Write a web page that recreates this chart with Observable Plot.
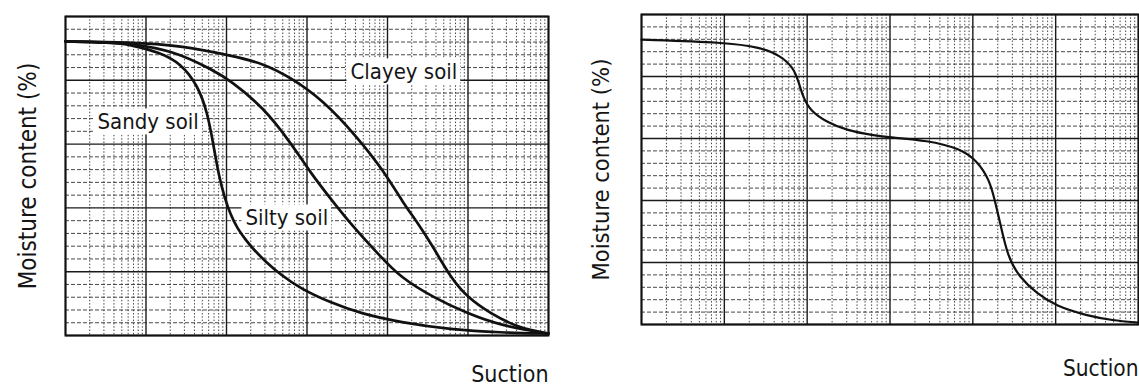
<!DOCTYPE html>
<html>
<head>
<meta charset="utf-8">
<script src="https://cdn.jsdelivr.net/npm/d3@7"></script>
<script src="https://cdn.jsdelivr.net/npm/@observablehq/plot@0.6"></script>
<style>
  html, body { margin: 0; padding: 0; background: #fff; }
  #wrap { position: relative; width: 1139px; height: 386px; overflow: hidden; }
  #wrap svg { position: absolute; top: 0; background: transparent; }
</style>
</head>
<body>
<div id="wrap"></div>
<script>
// ---------- data ----------
// Left panel: three soils
const sandySuction = [1, 3.6, 6.4, 15, 27, 44, 58, 69, 80, 94.5, 112, 137, 172, 216, 305, 469, 830, 1960, 4620, 14500, 60600, 253000, 1000000];
const sandyMoisture = [92.2, 91.8, 91.2, 88.7, 85.3, 78.4, 69.9, 59.6, 50.2, 43.3, 37.9, 33.5, 30.1, 27.0, 23.2, 19.1, 14.7, 10.3, 6.9, 4.1, 1.9, 0.9, 0.6];

const siltySuction = [1, 3.6, 6.4, 22, 69, 112, 288, 624, 1100, 1960, 3780, 8190, 14500, 37300, 98600, 253000, 1000000];
const siltyMoisture = [92.2, 91.9, 91.5, 89.3, 83.1, 79.9, 71.5, 60.5, 51.1, 42.9, 33.9, 24.8, 18.2, 11.9, 6.9, 3.1, 0.6];

const clayeySuction = [1, 6.4, 27, 112, 288, 624, 1600, 4240, 8920, 15800, 23600, 37300, 60600, 98600, 190000, 412000, 1000000];
const clayeyMoisture = [92.2, 91.9, 90.9, 87.8, 85.3, 80.9, 73.7, 62.1, 51.7, 41.4, 35.4, 27.6, 18.2, 11.9, 6.9, 2.5, 0.6];

const soilNames = ["Sandy soil", "Clayey soil", "Silty soil"];
const labelSuction = [2.5, 3470, 172];
const labelMoisture = [64.6, 80.3, 34.5];

// Right panel: bimodal curve
const bimodalSuction = [1, 10.3, 27.2, 47.3, 67.8, 78, 89.5, 109, 174, 303, 624, 1030, 2790, 6970, 11200, 16000, 18400, 21100, 26400, 36800, 59100, 103000, 236000, 487000, 1000000];
const bimodalMoisture = [91.9, 91.0, 89.4, 86.8, 82.9, 78.7, 73.2, 69.0, 65.2, 62.6, 61.0, 60.3, 59.4, 56.8, 52.9, 46.5, 40.0, 33.5, 21.6, 15.2, 10.0, 5.8, 2.9, 1.3, 0.6];

// grid ticks
const decades = [1, 10, 100, 1000, 10000, 100000, 1000000];
const minorFactors = [2, 3, 4, 5, 6, 7, 8, 9];
const majorMoisture = [0, 20, 40, 60, 80, 100];
const minorMoisture = [4, 8, 12, 16, 24, 28, 32, 36, 44, 48, 52, 56, 64, 68, 72, 76, 84, 88, 92, 96];

const yLabel = "Moisture content (%)";
const xLabel = "Suction";

// ---------- helpers ----------
const minorSuction = decades.slice(0, -1).flatMap(d => minorFactors.map(f => f * d));
const toRows = (s, m, name) => s.map((v, i) => ({suction: v, moisture: m[i], soil: name}));

const FONT = "'DejaVu Sans Condensed', 'DejaVu Sans', sans-serif";

function gridMarks() {
  return [
    Plot.ruleX(minorSuction, {stroke: "#333", strokeWidth: 0.9, strokeDasharray: "1.5,1.8"}),
    Plot.ruleY(minorMoisture, {stroke: "#333", strokeWidth: 0.9, strokeDasharray: "4,2"}),
    Plot.ruleX(decades, {stroke: "#1a1a1a", strokeWidth: 1.4}),
    Plot.ruleY(majorMoisture, {stroke: "#1a1a1a", strokeWidth: 1.4})
  ];
}

function axisTexts(dxY, dyX, fsY, fsX) {
  return [
    Plot.text([yLabel], {frameAnchor: "left", rotate: -90, textAnchor: "middle", lineAnchor: "bottom",
      dx: dxY, fontSize: fsY, fill: "#151515", fontFamily: FONT}),
    Plot.text([xLabel], {frameAnchor: "bottom-right", textAnchor: "end", lineAnchor: "bottom",
      dy: dyX, fontSize: fsX, fill: "#151515", fontFamily: FONT})
  ];
}

function addBoxes(svg) {
  const ns = "http://www.w3.org/2000/svg";
  let g = svg.querySelector('g[aria-description="soil-labels"]');
  if (!g) {
    g = Array.from(svg.querySelectorAll('g[aria-label="text"]')).find(x => x.querySelectorAll("text").length === 3);
  }
  if (!g) return;
  for (const t of Array.from(g.querySelectorAll("text"))) {
    const b = t.getBBox();
    const r = document.createElementNS(ns, "rect");
    r.setAttribute("x", b.x - 4);
    r.setAttribute("y", b.y - 1);
    r.setAttribute("width", b.width + 7);
    r.setAttribute("height", b.height + 1);
    r.setAttribute("fill", "white");
    r.setAttribute("stroke", "none");
    const tr = t.getAttribute("transform");
    if (tr) r.setAttribute("transform", tr);
    g.insertBefore(r, t);
  }
}

const wrap = document.getElementById("wrap");

// ---------- left panel ----------
const leftRows = [
  ...toRows(sandySuction, sandyMoisture, "Sandy"),
  ...toRows(siltySuction, siltyMoisture, "Silty"),
  ...toRows(clayeySuction, clayeyMoisture, "Clayey")
];
const labelRows = soilNames.map((n, i) => ({name: n, suction: labelSuction[i], moisture: labelMoisture[i]}));

const left = Plot.plot({
  width: 580, height: 386,
  marginLeft: 65, marginRight: 32, marginTop: 16, marginBottom: 51,
  style: {background: "transparent"},
  x: {type: "log", domain: [1, 1e6], axis: null},
  y: {domain: [0, 100], axis: null},
  marks: [
    ...gridMarks(),
    Plot.line(leftRows, {x: "suction", y: "moisture", z: "soil", stroke: "#111", strokeWidth: 2.7, curve: "basis"}),
    Plot.text(labelRows, {x: "suction", y: "moisture", text: "name", textAnchor: "start", lineAnchor: "bottom",
      fontSize: 22, fill: "#151515", fontFamily: FONT, ariaDescription: "soil-labels"}),
    Plot.frame({stroke: "#111", strokeWidth: 2}),
    ...axisTexts(-30, 46, 24, 23)
  ]
});
left.style.left = "0px";
wrap.appendChild(left);
addBoxes(left);

// ---------- right panel ----------
const right = Plot.plot({
  width: 559, height: 386,
  marginLeft: 61, marginRight: 1, marginTop: 14, marginBottom: 62,
  style: {background: "transparent"},
  x: {type: "log", domain: [1, 1e6], axis: null},
  y: {domain: [0, 100], axis: null},
  marks: [
    ...gridMarks(),
    Plot.line(toRows(bimodalSuction, bimodalMoisture, "Bimodal"), {x: "suction", y: "moisture", stroke: "#111", strokeWidth: 2.2, curve: "basis"}),
    Plot.frame({stroke: "#111", strokeWidth: 2}),
    ...axisTexts(-33, 51, 23.5, 22.5)
  ]
});
right.style.left = "580px";
wrap.appendChild(right);
</script>
</body>
</html>
